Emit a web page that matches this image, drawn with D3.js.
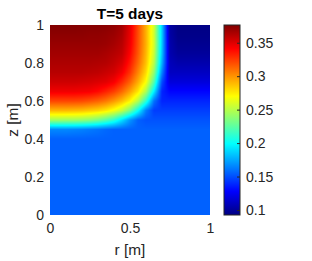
<!DOCTYPE html>
<html>
<head>
<meta charset="utf-8">
<script src="https://cdn.jsdelivr.net/npm/d3@7"></script>
<style>
  body { margin: 0; background: #fff; }
  text { font-family: "Liberation Sans", Arial, sans-serif; fill: #262626; }
</style>
</head>
<body>
<svg id="chart" width="312" height="261"></svg>
<script>
// Grid nodes of the field (r across, z down from the top)
const rNodes = [0, 0.05, 0.1, 0.15, 0.2, 0.25, 0.3, 0.35, 0.4, 0.45, 0.5, 0.55, 0.6, 0.65, 0.7, 0.75, 0.8, 0.85, 0.9, 0.95, 1];
const zNodes = [1, 0.95, 0.9, 0.85, 0.8, 0.75, 0.7, 0.65, 0.6, 0.55, 0.5, 0.45, 0.4, 0.35, 0.3, 0.25, 0.2, 0.15, 0.1, 0.05, 0];

// Field values, one row per zNode
const theta = [
  [0.376, 0.376, 0.376, 0.376, 0.375, 0.375, 0.375, 0.374, 0.372, 0.367, 0.349, 0.321, 0.292, 0.258, 0.186, 0.102, 0.094, 0.094, 0.094, 0.094, 0.094],
  [0.373, 0.373, 0.373, 0.373, 0.373, 0.372, 0.372, 0.371, 0.369, 0.364, 0.347, 0.320, 0.292, 0.257, 0.186, 0.103, 0.095, 0.095, 0.095, 0.095, 0.095],
  [0.370, 0.370, 0.370, 0.370, 0.370, 0.370, 0.370, 0.369, 0.366, 0.361, 0.345, 0.319, 0.292, 0.258, 0.185, 0.105, 0.097, 0.097, 0.097, 0.097, 0.097],
  [0.367, 0.367, 0.367, 0.367, 0.367, 0.367, 0.367, 0.365, 0.362, 0.358, 0.341, 0.317, 0.290, 0.255, 0.183, 0.106, 0.100, 0.100, 0.100, 0.100, 0.100],
  [0.364, 0.364, 0.364, 0.364, 0.364, 0.364, 0.363, 0.362, 0.358, 0.352, 0.335, 0.312, 0.287, 0.250, 0.177, 0.109, 0.105, 0.105, 0.105, 0.105, 0.105],
  [0.361, 0.361, 0.361, 0.361, 0.361, 0.360, 0.359, 0.356, 0.353, 0.344, 0.327, 0.304, 0.280, 0.239, 0.165, 0.111, 0.111, 0.111, 0.111, 0.111, 0.111],
  [0.355, 0.355, 0.355, 0.355, 0.354, 0.353, 0.351, 0.349, 0.343, 0.330, 0.314, 0.293, 0.269, 0.222, 0.149, 0.118, 0.118, 0.118, 0.118, 0.118, 0.118],
  [0.345, 0.345, 0.345, 0.345, 0.344, 0.343, 0.339, 0.332, 0.324, 0.312, 0.296, 0.277, 0.247, 0.195, 0.138, 0.129, 0.129, 0.129, 0.129, 0.129, 0.129],
  [0.322, 0.322, 0.322, 0.322, 0.321, 0.318, 0.314, 0.308, 0.299, 0.288, 0.273, 0.249, 0.212, 0.160, 0.138, 0.138, 0.138, 0.138, 0.138, 0.138, 0.138],
  [0.290, 0.290, 0.290, 0.289, 0.288, 0.285, 0.282, 0.276, 0.267, 0.254, 0.233, 0.201, 0.163, 0.145, 0.145, 0.145, 0.145, 0.145, 0.145, 0.145, 0.145],
  [0.244, 0.244, 0.243, 0.243, 0.241, 0.238, 0.232, 0.223, 0.211, 0.191, 0.170, 0.155, 0.151, 0.151, 0.151, 0.151, 0.151, 0.151, 0.151, 0.151, 0.151],
  [0.166, 0.166, 0.166, 0.165, 0.164, 0.162, 0.160, 0.157, 0.155, 0.155, 0.155, 0.155, 0.155, 0.155, 0.155, 0.155, 0.155, 0.155, 0.155, 0.155, 0.155],
  [0.155, 0.155, 0.155, 0.155, 0.155, 0.155, 0.155, 0.155, 0.155, 0.155, 0.155, 0.155, 0.155, 0.155, 0.155, 0.155, 0.155, 0.155, 0.155, 0.155, 0.155],
  [0.155, 0.155, 0.155, 0.155, 0.155, 0.155, 0.155, 0.155, 0.155, 0.155, 0.155, 0.155, 0.155, 0.155, 0.155, 0.155, 0.155, 0.155, 0.155, 0.155, 0.155],
  [0.155, 0.155, 0.155, 0.155, 0.155, 0.155, 0.155, 0.155, 0.155, 0.155, 0.155, 0.155, 0.155, 0.155, 0.155, 0.155, 0.155, 0.155, 0.155, 0.155, 0.155],
  [0.155, 0.155, 0.155, 0.155, 0.155, 0.155, 0.155, 0.155, 0.155, 0.155, 0.155, 0.155, 0.155, 0.155, 0.155, 0.155, 0.155, 0.155, 0.155, 0.155, 0.155],
  [0.155, 0.155, 0.155, 0.155, 0.155, 0.155, 0.155, 0.155, 0.155, 0.155, 0.155, 0.155, 0.155, 0.155, 0.155, 0.155, 0.155, 0.155, 0.155, 0.155, 0.155],
  [0.155, 0.155, 0.155, 0.155, 0.155, 0.155, 0.155, 0.155, 0.155, 0.155, 0.155, 0.155, 0.155, 0.155, 0.155, 0.155, 0.155, 0.155, 0.155, 0.155, 0.155],
  [0.155, 0.155, 0.155, 0.155, 0.155, 0.155, 0.155, 0.155, 0.155, 0.155, 0.155, 0.155, 0.155, 0.155, 0.155, 0.155, 0.155, 0.155, 0.155, 0.155, 0.155],
  [0.155, 0.155, 0.155, 0.155, 0.155, 0.155, 0.155, 0.155, 0.155, 0.155, 0.155, 0.155, 0.155, 0.155, 0.155, 0.155, 0.155, 0.155, 0.155, 0.155, 0.155],
  [0.155, 0.155, 0.155, 0.155, 0.155, 0.155, 0.155, 0.155, 0.155, 0.155, 0.155, 0.155, 0.155, 0.155, 0.155, 0.155, 0.155, 0.155, 0.155, 0.155, 0.155]
];

const xTicks = [0, 0.5, 1];
const yTicks = [0, 0.2, 0.4, 0.6, 0.8, 1];
const cbarTicks = [0.1, 0.15, 0.2, 0.25, 0.3, 0.35];
const colorLimits = [0.0925, 0.3765];

// jet colormap stops
const jetStops = [0, 0.125, 0.375, 0.625, 0.875, 1];
const jetColors = ['#000080', '#0000ff', '#00ffff', '#ffff00', '#ff0000', '#800000'];

// Layout
const plot = { left: 50, top: 25, width: 160, height: 190 };
const cbar = { left: 224, width: 16 };
const axisColor = '#262626';

const svg = d3.select('#chart');

const x = d3.scaleLinear().domain([0, 1]).range([plot.left, plot.left + plot.width]);
const y = d3.scaleLinear().domain([0, 1]).range([plot.top + plot.height, plot.top]);

const norm = d3.scaleLinear().domain(colorLimits).range([0, 1]).clamp(true);
const jet = d3.scaleLinear().domain(jetStops).range(jetColors).interpolate(d3.interpolateRgb);
const colorOf = v => jet(norm(v));

// Node index scales for interpolated shading between grid nodes
const ri = d3.scaleLinear().domain([rNodes[0], rNodes[rNodes.length - 1]]).range([0, rNodes.length - 1]).clamp(true);
const zi = d3.scaleLinear().domain([zNodes[0], zNodes[zNodes.length - 1]]).range([0, zNodes.length - 1]).clamp(true);

function valueAt(r, z) {
    const fx = ri(r), fy = zi(z);
    const i0 = Math.min(Math.floor(fx), rNodes.length - 2);
    const j0 = Math.min(Math.floor(fy), zNodes.length - 2);
    const tx = fx - i0, ty = fy - j0;
    const top = theta[j0][i0] * (1 - tx) + theta[j0][i0 + 1] * tx;
    const bot = theta[j0 + 1][i0] * (1 - tx) + theta[j0 + 1][i0 + 1] * tx;
    return top * (1 - ty) + bot * ty;
}

// Paint the field into a canvas, then place it as an image
const canvas = document.createElement('canvas');
canvas.width = plot.width;
canvas.height = plot.height;
const ctx = canvas.getContext('2d');
const img = ctx.createImageData(plot.width, plot.height);
for (let j = 0; j < plot.height; j++) {
    const z = y.invert(plot.top + j + 0.5);
    for (let i = 0; i < plot.width; i++) {
        const r = x.invert(plot.left + i + 0.5);
        const c = d3.rgb(colorOf(valueAt(r, z)));
        const k = (j * plot.width + i) * 4;
        img.data[k] = c.r;
        img.data[k + 1] = c.g;
        img.data[k + 2] = c.b;
        img.data[k + 3] = 255;
    }
}
ctx.putImageData(img, 0, 0);

svg.append('image')
    .attr('x', plot.left)
    .attr('y', plot.top)
    .attr('width', plot.width)
    .attr('height', plot.height)
    .attr('preserveAspectRatio', 'none')
    .attr('href', canvas.toDataURL());

// Axes (ticks hidden under the image, as in the original)
const xAxis = svg.append('g')
    .attr('transform', `translate(0,${plot.top + plot.height})`)
    .call(d3.axisBottom(x).tickValues(xTicks).tickSize(0).tickPadding(8).tickFormat(d3.format('~g')));
const yAxis = svg.append('g')
    .attr('transform', `translate(${plot.left},0)`)
    .call(d3.axisLeft(y).tickValues(yTicks).tickSize(0).tickPadding(6).tickFormat(d3.format('~g')));
[xAxis, yAxis].forEach(a => {
    a.select('.domain').remove();
    a.selectAll('text').style('font-size', '14px').attr('fill', axisColor);
});

// Colorbar
const cy = d3.scaleLinear().domain(colorLimits).range([plot.top + plot.height, plot.top]);
const grad = svg.append('defs').append('linearGradient')
    .attr('id', 'jetGrad')
    .attr('x1', 0).attr('y1', 1).attr('x2', 0).attr('y2', 0);
grad.selectAll('stop')
    .data(jetStops)
    .join('stop')
    .attr('offset', d => d)
    .attr('stop-color', (d, i) => jetColors[i]);

svg.append('rect')
    .attr('x', cbar.left)
    .attr('y', plot.top)
    .attr('width', cbar.width)
    .attr('height', plot.height)
    .attr('fill', 'url(#jetGrad)')
    .attr('stroke', axisColor)
    .attr('stroke-width', 1);

const cAxis = svg.append('g')
    .attr('transform', `translate(${cbar.left + cbar.width},0)`)
    .call(d3.axisRight(cy).tickValues(cbarTicks).tickSizeInner(-3).tickSizeOuter(0).tickPadding(6).tickFormat(d3.format('~g')));
cAxis.select('.domain').remove();
cAxis.selectAll('line').attr('stroke', axisColor);
cAxis.selectAll('text').style('font-size', '14px').attr('fill', axisColor);

// Title and labels
svg.append('text')
    .attr('x', x(0.5))
    .attr('y', 19)
    .attr('text-anchor', 'middle')
    .style('font-size', '15.4px')
    .style('font-weight', 'bold')
    .style('fill', '#000')
    .text('T=5 days');

svg.append('text')
    .attr('x', x(0.5))
    .attr('y', 255)
    .attr('text-anchor', 'middle')
    .style('font-size', '15.4px')
    .text('r [m]');

svg.append('text')
    .attr('transform', `translate(18,${y(0.5)}) rotate(-90)`)
    .attr('text-anchor', 'middle')
    .style('font-size', '15.4px')
    .text('z [m]');
</script>
</body>
</html>
